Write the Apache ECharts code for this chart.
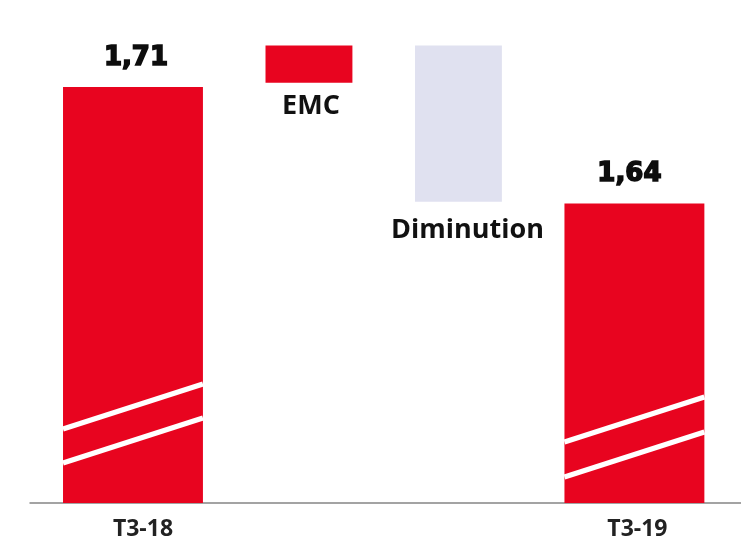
<!DOCTYPE html>
<html>
<head>
<meta charset="utf-8">
<script src="https://cdn.jsdelivr.net/npm/echarts@6/dist/echarts.min.js"></script>
<style>
  html, body { margin: 0; padding: 0; background: #ffffff; }
  #chart { width: 752px; height: 542px; }
</style>
</head>
<body>
<div id="chart"></div>
<script>
// Quarterly bridge: opening level, the two movements, closing level
const categories = ['T3-18', 'EMC', 'Diminution', 'T3-19'];
const barHigh = [1.71, 1.735, 1.735, 1.64];      // top of each bar
const barLow = [null, 1.7125, 1.641, null];      // floating bars start here; null = from the axis
const isTotal = [true, false, false, true];

// Broken value axis: only the upper part of the scale is shown
const Y_MIN = 1.46;
const Y_MAX = 1.735;

// Horizontal layout, in units of a narrow bar's width
const barUnits = [1.61, 1, 1, 1.61];
const gapUnits = 0.72;
const padLeft = 0.38;
const padRight = 0.41;

const slotStart = [];
let cursor = padLeft;
barUnits.forEach(function (w, i) {
  slotStart.push(cursor);
  cursor += w + (i < barUnits.length - 1 ? gapUnits : 0);
});
const X_MAX = cursor + padRight;

// Styling
const RED = '#E8041F';
const LAVENDER = '#E0E1F0';
const barColor = [RED, RED, LAVENDER, RED];
const labelShift = [10, 2, 9, 3];
const labelDrop = [26, 23, 28, 26];
const valueShift = [3, 0, 0, -5];
// white "axis break" strokes on the full bars: offsets above the bar bottom, in px
const breakMarks = [
  { lowLeft: 40, rise: 45, spacing: 34 },
  null, null,
  { lowLeft: 26, rise: 45, spacing: 35 }
];

function fmt(v) { return v.toFixed(2).replace('.', ','); }

const chart = echarts.init(document.getElementById('chart'), null, { renderer: 'canvas' });

chart.setOption({
  animation: false,
  backgroundColor: '#ffffff',
  grid: { left: 30, right: 12, top: 45.4, bottom: 39 },
  xAxis: {
    type: 'value', min: 0, max: X_MAX,
    axisLine: { show: false }, axisTick: { show: false },
    axisLabel: { show: false }, splitLine: { show: false }
  },
  yAxis: {
    type: 'value', min: Y_MIN, max: Y_MAX,
    axisLine: { show: false }, axisTick: { show: false },
    axisLabel: { show: false }, splitLine: { show: false }
  },
  series: [
    {
      // baseline under the bars
      type: 'custom',
      silent: true,
      z: 1,
      data: [[0]],
      renderItem: function (params, api) {
        const a = api.coord([0, Y_MIN]);
        const b = api.coord([X_MAX, Y_MIN]);
        return {
          type: 'line',
          shape: { x1: a[0] - 0.5, y1: a[1], x2: b[0] + 1, y2: b[1] },
          style: { stroke: '#A3A3A3', lineWidth: 2 }
        };
      }
    },
    {
      type: 'custom',
      z: 2,
      clip: false,
      data: categories.map(function (c, i) {
        return [i, barLow[i] === null ? Y_MIN : barLow[i], barHigh[i]];
      }),
      renderItem: function (params, api) {
        const i = api.value(0);
        const lo = api.value(1);
        const hi = api.value(2);
        const tl = api.coord([slotStart[i], hi]);
        const br = api.coord([slotStart[i] + barUnits[i], lo]);
        const x = tl[0], y = tl[1], w = br[0] - tl[0], h = br[1] - tl[1];
        const cx = x + w / 2;
        const children = [{
          type: 'rect',
          shape: { x: x, y: y, width: w, height: h },
          style: { fill: barColor[i] }
        }];
        const bm = breakMarks[i];
        if (bm) {
          for (let k = 0; k < 2; k++) {
            const y0 = br[1] - bm.lowLeft - k * bm.spacing;
            children.push({
              type: 'line',
              shape: { x1: x, y1: y0, x2: x + w, y2: y0 - bm.rise },
              style: { stroke: '#ffffff', lineWidth: 5, lineCap: 'butt' }
            });
          }
        }
        if (isTotal[i]) {
          children.push({
            type: 'text',
            x: cx + valueShift[i], y: y - 29,
            style: {
              text: fmt(hi), fill: '#0d0d0d',
              stroke: '#0d0d0d', lineWidth: 1.6, lineJoin: 'round',
              font: 'bold 26px "DejaVu Sans", sans-serif',
              align: 'center', verticalAlign: 'middle'
            }
          });
          children.push({
            type: 'text',
            x: cx + labelShift[i], y: br[1] + labelDrop[i],
            style: {
              text: categories[i], fill: '#222222',
              font: 'bold 23px "Open Sans", sans-serif',
              align: 'center', verticalAlign: 'middle'
            }
          });
        } else {
          children.push({
            type: 'text',
            x: cx + labelShift[i], y: br[1] + labelDrop[i],
            style: {
              text: categories[i], fill: '#111111',
              font: 'bold 27px "Open Sans", sans-serif',
              align: 'center', verticalAlign: 'middle'
            }
          });
        }
        return { type: 'group', children: children };
      }
    }
  ]
});
</script>
</body>
</html>
